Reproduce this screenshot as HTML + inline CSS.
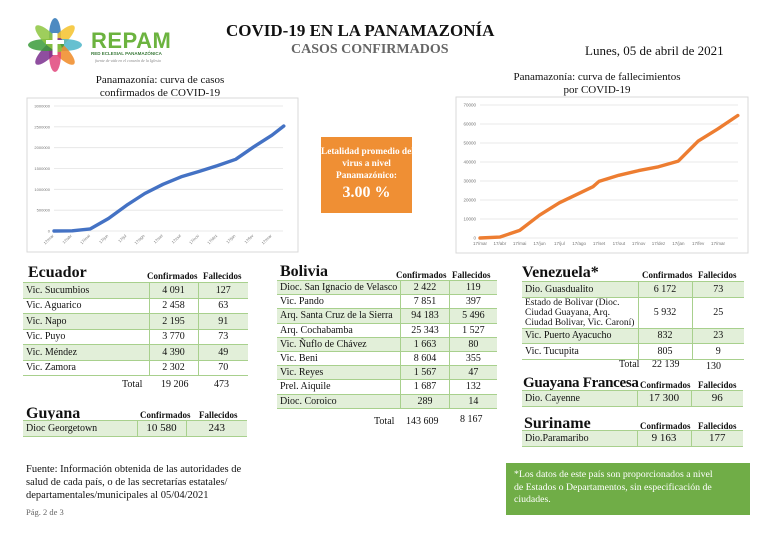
<!DOCTYPE html>
<html><head><meta charset="utf-8">
<style>
*{margin:0;padding:0;box-sizing:border-box}
body{width:765px;height:538px;background:#fff;position:relative;overflow:hidden;font-family:"Liberation Serif",serif;color:#111}
.a{position:absolute}
table{border-collapse:collapse;position:absolute;font-size:10px}
td{height:15.5px;padding:0 3px;border-top:1.5px solid #a8d08d;border-bottom:1.5px solid #a8d08d;white-space:nowrap}
td.n{text-align:center;border-left:1.5px solid #a8d08d}
tr.g td{background:#e2efd9}
table.bo td{height:14.2px;line-height:11px}
.hd{position:absolute;font-size:9px;font-weight:bold}
.cn{position:absolute;font-size:16px;font-weight:bold}
.tot{position:absolute;font-size:10px}
</style></head><body>
<svg class="a" style="left:24px;top:14px" width="62" height="62">
<g transform="translate(31,31)">
<ellipse rx="6" ry="18" fill="#2e75b6" transform="rotate(0) translate(0,-9)" opacity=".85"/>
<ellipse rx="6" ry="18" fill="#f4c22b" transform="rotate(45) translate(0,-9)" opacity=".85"/>
<ellipse rx="6" ry="18" fill="#4bb5c8" transform="rotate(90) translate(0,-9)" opacity=".85"/>
<ellipse rx="6" ry="18" fill="#f08a24" transform="rotate(135) translate(0,-9)" opacity=".85"/>
<ellipse rx="6" ry="18" fill="#e0457b" transform="rotate(180) translate(0,-9)" opacity=".85"/>
<ellipse rx="6" ry="18" fill="#7b2f8e" transform="rotate(225) translate(0,-9)" opacity=".85"/>
<ellipse rx="6" ry="18" fill="#3b9b3b" transform="rotate(270) translate(0,-9)" opacity=".85"/>
<ellipse rx="6" ry="18" fill="#8dc63f" transform="rotate(315) translate(0,-9)" opacity=".85"/>
<rect x="-2.5" y="-12" width="5" height="22" fill="#fff"/><rect x="-9" y="-5" width="18" height="4" fill="#fff"/>
</g></svg>
<div class="a" style="left:91px;top:28px;font:bold 22px 'Liberation Sans',sans-serif;color:#6cb33f;letter-spacing:0.5px">REPAM</div>
<div class="a" style="left:91px;top:51px;font:bold 4.5px 'Liberation Sans',sans-serif;color:#3b7a3b">RED ECLESIAL PANAMAZÓNICA</div>
<div class="a" style="left:95px;top:58px;font:italic 4px serif;color:#888">fuente de vida en el corazón de la Iglesia</div>

<div class="a" style="left:226px;top:21px;font-size:17px;font-weight:bold">COVID-19 EN LA PANAMAZONÍA</div>
<div class="a" style="left:291px;top:42px;font-size:14px;font-weight:bold;color:#666">CASOS CONFIRMADOS</div>
<div class="a" style="left:585px;top:43px;font-size:13px">Lunes, 05 de abril de 2021</div>

<div class="a" style="left:60px;top:74px;width:200px;text-align:center;font-size:11px;line-height:13px">Panamazonía: curva de casos<br>confirmados de COVID-19</div>
<div class="a" style="left:497px;top:71px;width:200px;text-align:center;font-size:11px;line-height:13px">Panamazonía: curva de fallecimientos<br>por COVID-19</div>

<svg class="a" id="c1" style="left:0;top:0" width="765" height="260"></svg>

<div class="a" style="left:321px;top:137px;width:91px;height:76px;background:#ef8f34;color:#fff;text-align:center;font-weight:bold;font-size:9.3px;line-height:12px;padding-top:9px;white-space:nowrap;overflow:hidden">Letalidad promedio del<br>virus a nivel<br>Panamazónico:<div style="font-size:16px;margin-top:5px">3.00 %</div></div>

<!-- Ecuador -->
<div class="cn" style="left:28px;top:264px">Ecuador</div>
<div class="hd" style="left:147px;top:271px">Confirmados</div><div class="hd" style="left:203px;top:271px">Fallecidos</div>
<table style="left:23px;top:282px;width:225px">
<colgroup><col style="width:126px"><col style="width:49px"><col style="width:50px"></colgroup>
<tr class="g"><td>Vic. Sucumbios</td><td class="n">4 091</td><td class="n">127</td></tr>
<tr><td>Vic. Aguarico</td><td class="n">2 458</td><td class="n">63</td></tr>
<tr class="g"><td>Vic. Napo</td><td class="n">2 195</td><td class="n">91</td></tr>
<tr><td>Vic. Puyo</td><td class="n">3 770</td><td class="n">73</td></tr>
<tr class="g"><td>Vic. Méndez</td><td class="n">4 390</td><td class="n">49</td></tr>
<tr><td>Vic. Zamora</td><td class="n">2 302</td><td class="n">70</td></tr>
</table>
<div class="tot" style="left:122px;top:379px">Total</div><div class="tot" style="left:161px;top:379px">19 206</div><div class="tot" style="left:214px;top:379px">473</div>

<div class="cn" style="left:26px;top:405px">Guyana</div>
<div class="hd" style="left:140px;top:410px">Confirmados</div><div class="hd" style="left:199px;top:410px">Fallecidos</div>
<table style="left:23px;top:420px;width:224px">
<colgroup><col style="width:114px"><col style="width:49px"><col style="width:61px"></colgroup>
<tr class="g"><td>Dioc Georgetown</td><td class="n" style="font-size:11px">10 580</td><td class="n" style="font-size:11px">243</td></tr>
</table>

<!-- Bolivia -->
<div class="cn" style="left:280px;top:263px">Bolivia</div>
<div class="hd" style="left:396px;top:270px">Confirmados</div><div class="hd" style="left:452px;top:270px">Fallecidos</div>
<table class="bo" style="left:277px;top:280px;width:220px">
<colgroup><col style="width:120px"><col style="width:50px"><col style="width:50px"></colgroup>
<tr class="g"><td>Dioc. San Ignacio de Velasco</td><td class="n">2 422</td><td class="n">119</td></tr>
<tr><td>Vic. Pando</td><td class="n">7 851</td><td class="n">397</td></tr>
<tr class="g"><td>Arq. Santa Cruz de la Sierra</td><td class="n">94 183</td><td class="n">5 496</td></tr>
<tr><td>Arq. Cochabamba</td><td class="n">25 343</td><td class="n">1 527</td></tr>
<tr class="g"><td>Vic. Ñuflo de Chávez</td><td class="n">1 663</td><td class="n">80</td></tr>
<tr><td>Vic. Beni</td><td class="n">8 604</td><td class="n">355</td></tr>
<tr class="g"><td>Vic. Reyes</td><td class="n">1 567</td><td class="n">47</td></tr>
<tr><td>Prel. Aiquile</td><td class="n">1 687</td><td class="n">132</td></tr>
<tr class="g"><td>Dioc. Coroico</td><td class="n">289</td><td class="n">14</td></tr>
</table>
<div class="tot" style="left:374px;top:416px">Total</div><div class="tot" style="left:406px;top:416px">143 609</div><div class="tot" style="left:460px;top:414px">8 167</div>

<!-- Venezuela -->
<div class="cn" style="left:522px;top:264px">Venezuela*</div>
<div class="hd" style="left:642px;top:270px">Confirmados</div><div class="hd" style="left:698px;top:270px">Fallecidos</div>
<table style="left:522px;top:281px;width:222px">
<colgroup><col style="width:116px"><col style="width:54px"><col style="width:52px"></colgroup>
<tr class="g"><td>Dio. Guasdualito</td><td class="n">6 172</td><td class="n">73</td></tr>
<tr><td style="line-height:10px;height:31px;font-size:9.5px">Estado de Bolivar (Dioc.<br>Ciudad Guayana, Arq.<br>Ciudad Bolivar, Vic. Caroní)</td><td class="n">5 932</td><td class="n">25</td></tr>
<tr class="g"><td>Vic. Puerto Ayacucho</td><td class="n">832</td><td class="n">23</td></tr>
<tr><td>Vic. Tucupita</td><td class="n">805</td><td class="n">9</td></tr>
</table>
<div class="tot" style="left:619px;top:359px">Total</div><div class="tot" style="left:652px;top:359px">22 139</div><div class="tot" style="left:706px;top:361px">130</div>

<div class="cn" style="left:523px;top:375px;font-size:15px;letter-spacing:-0.3px">Guayana Francesa</div>
<div class="hd" style="left:640px;top:380px">Confirmados</div><div class="hd" style="left:698px;top:380px">Fallecidos</div>
<table style="left:522px;top:390px;width:221px">
<colgroup><col style="width:115px"><col style="width:54px"><col style="width:52px"></colgroup>
<tr class="g"><td>Dio. Cayenne</td><td class="n" style="font-size:11px">17 300</td><td class="n" style="font-size:11px">96</td></tr>
</table>

<div class="cn" style="left:524px;top:415px">Suriname</div>
<div class="hd" style="left:640px;top:421px">Confirmados</div><div class="hd" style="left:698px;top:421px">Fallecidos</div>
<table style="left:522px;top:430px;width:221px">
<colgroup><col style="width:115px"><col style="width:54px"><col style="width:52px"></colgroup>
<tr class="g"><td>Dio.Paramaribo</td><td class="n" style="font-size:11px">9 163</td><td class="n" style="font-size:11px">177</td></tr>
</table>

<div class="a" style="left:26px;top:463px;font-size:10.5px;line-height:13px;width:240px">Fuente: Información obtenida de las autoridades de<br>salud de cada país, o de las secretarías estatales/<br>departamentales/municipales al 05/04/2021</div>
<div class="a" style="left:26px;top:507px;font-size:8.5px;color:#666">Pág. 2 de 3</div>

<div class="a" style="left:506px;top:463px;width:244px;height:52px;background:#70ad47;color:#fff;font-size:9.8px;line-height:12.5px;padding:6px 0 0 8px;white-space:nowrap">*Los datos de este país son proporcionados a nivel<br>de Estados o Departamentos, sin especificación de<br>ciudades.</div>

<script>
const monthLabels=["17/mar","17/abr","17/mai","17/jun","17/jul","17/ago","17/set","17/out","17/nov","17/dez","17/jan","17/fev","17/mar"];
const caseX=[0,1,2,3,4,5,6,7,8,9,10,11,12,12.65];
const caseVals=[0,5000,50000,300000,620000,900000,1120000,1300000,1430000,1570000,1720000,2020000,2300000,2520000];
const caseTicks=[0,500000,1000000,1500000,2000000,2500000,3000000];
const deathX=[0,1,2,3,4,5,5.7,6,7,8,9,10,11,12,13];
const deathVals=[0,500,4000,12000,18500,23500,27000,29800,33000,35500,37500,40500,51000,57500,64500];
const deathTicks=[0,10000,20000,30000,40000,50000,60000,70000];
const ns="http://www.w3.org/2000/svg";
const svg=document.getElementById('c1');
function mk(t,a,p){const e=document.createElementNS(ns,t);for(const k in a)e.setAttribute(k,a[k]);(p||svg).appendChild(e);return e;}
function chart(o){
  const box=mk('rect',{x:o.bx,y:o.by,width:o.bw,height:o.bh,fill:'#fff',stroke:'#d9d9d9'});
  
  
  const sx=v=>o.x0+(o.x1-o.x0)*v/o.xmax;
  const sy=v=>o.y0-(o.y0-o.y1)*v/o.ymax;
  o.ticks.forEach(t=>{
    const l=mk('line',{x1:o.x0,x2:o.gx,y1:sy(t),y2:sy(t),stroke:'#e3e3e3','stroke-width':0.8});
    
    
    const tx=mk('text',{x:o.x0-4,y:sy(t)+1.5,'font-size':o.tfs,'text-anchor':'end',fill:'#777','font-family':'Liberation Sans,sans-serif'});
    tx.textContent=t;
    
    
  });
  monthLabels.forEach((m,i)=>{
    const x=sx(i);
    const tx=mk('text',{x:x,y:o.y0+5,'font-size':o.tfs,fill:'#777','font-family':'Liberation Sans,sans-serif','text-anchor':o.rot?'end':'middle',transform:o.rot?`rotate(-45 ${x} ${o.y0+5})`:''});
    if(!o.rot)tx.setAttribute('y',o.y0+7);
    tx.textContent=m;
    
    
  });
  const d=o.xs.map((x,i)=>(i?'L':'M')+sx(x).toFixed(1)+','+sy(o.vals[i]).toFixed(1)).join(' ');
  const p=mk('path',{d:d,fill:'none',stroke:o.color,'stroke-width':3.4,'stroke-linejoin':'round','stroke-linecap':'round'});
  
  
}
chart({name:'cases',bx:27,by:98,bw:271,bh:154,x0:54,x1:272,gx:283,y0:231,y1:106,xmax:12,ymax:3000000,ticks:caseTicks,xs:caseX,vals:caseVals,color:'#4472c4',tfs:4,rot:true});
chart({name:'deaths',bx:456,by:97,bw:292,bh:156,x0:480,x1:718,gx:738,y0:238,y1:105,xmax:12,ymax:70000,ticks:deathTicks,xs:deathX,vals:deathVals,color:'#ed7d31',tfs:4.5,rot:false});
</script>
</body></html>
